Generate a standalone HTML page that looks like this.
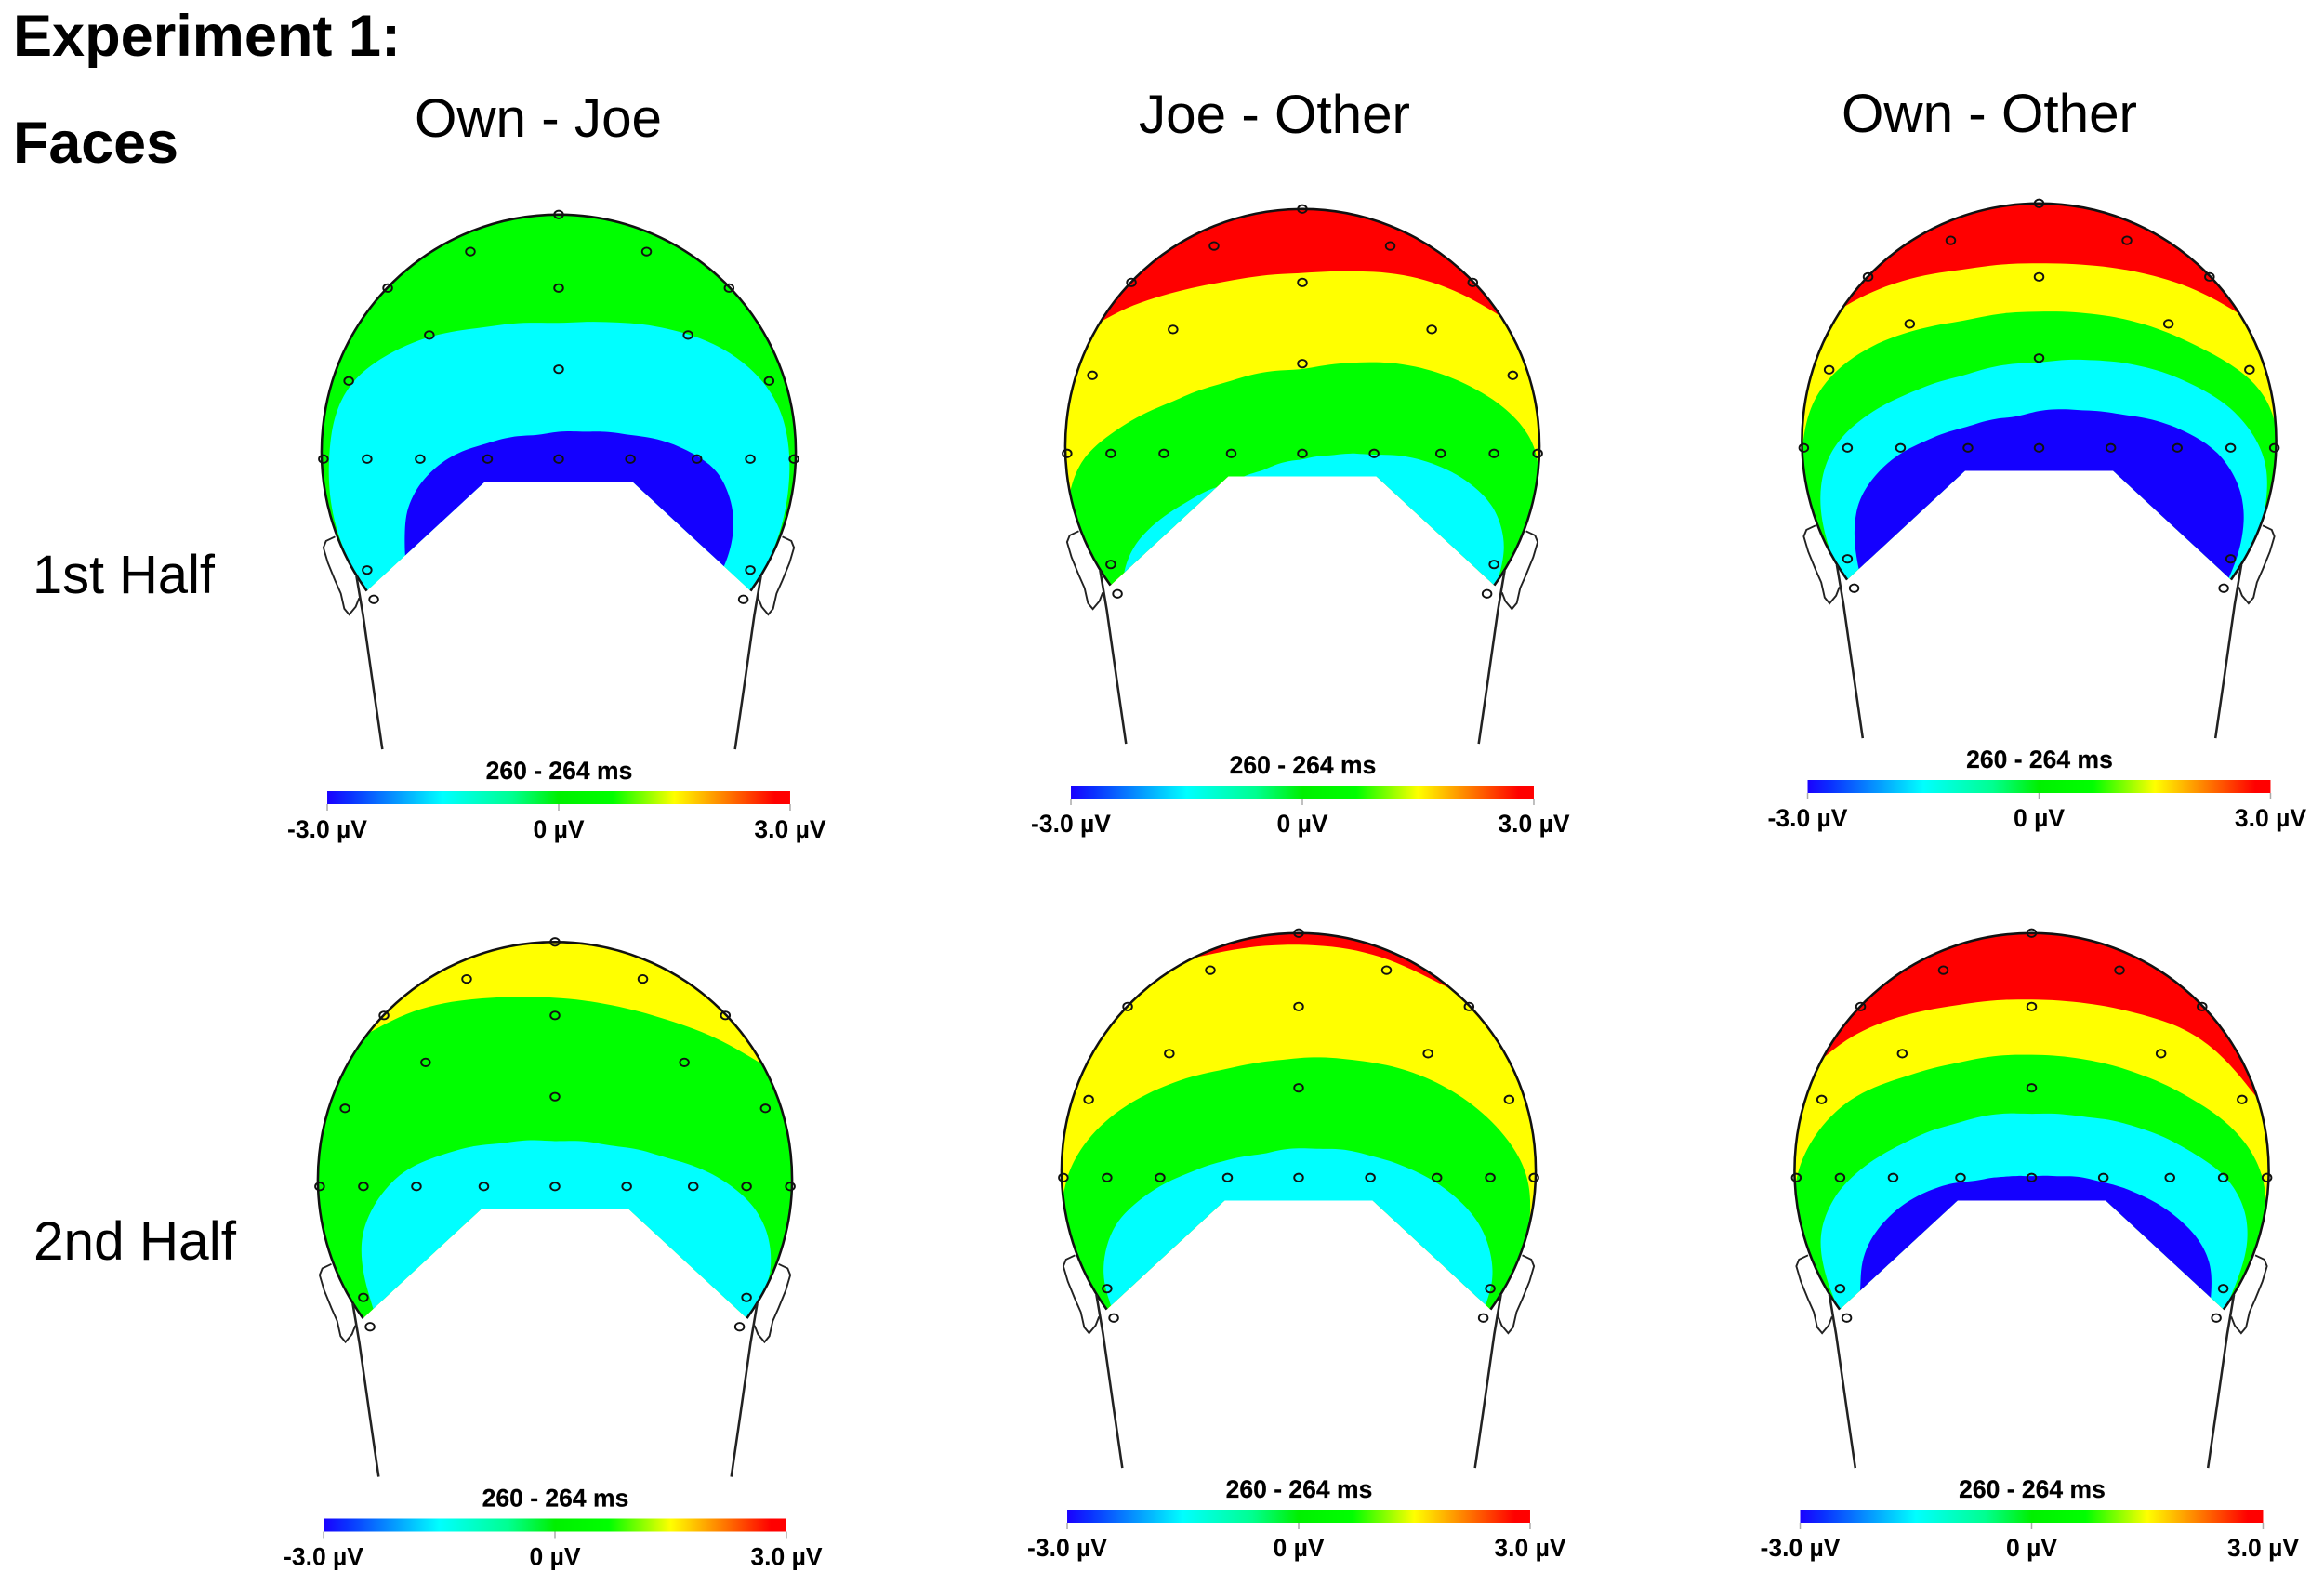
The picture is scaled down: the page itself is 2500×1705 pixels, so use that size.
<!DOCTYPE html>
<html lang="en">
<head>
<meta charset="utf-8">
<title>Experiment 1: Faces</title>
<style>
html,body{margin:0;padding:0;background:#fff}
svg{display:block}
text{font-family:"Liberation Sans",Arial,sans-serif;fill:#000}
.h{font-size:63px;font-weight:bold}
.t{font-size:58px}
</style>
</head>
<body>
<svg id="figure" xmlns="http://www.w3.org/2000/svg" width="2500" height="1705" viewBox="0 0 2500 1705">
  <rect width="2500" height="1705" fill="#fff"/>
  <defs>
    <clipPath id="scalp-clip" clipPathUnits="userSpaceOnUse">
      <path d="M-129.5 92A160 160 0 1 1 129.5 92L50 18.5L-50 18.5Z"/>
    </clipPath>
  </defs>
  <text class="h" x="14" y="60" textLength="417" lengthAdjust="spacingAndGlyphs">Experiment 1:</text>
  <text class="h" x="14" y="175" textLength="178" lengthAdjust="spacingAndGlyphs">Faces</text>
  <text class="t" x="446" y="147" textLength="266" lengthAdjust="spacingAndGlyphs">Own - Joe</text>
  <text class="t" x="1225" y="143" textLength="292" lengthAdjust="spacingAndGlyphs">Joe - Other</text>
  <text class="t" x="1981" y="142" textLength="318" lengthAdjust="spacingAndGlyphs">Own - Other</text>
  <text class="t" x="35" y="638" textLength="196" lengthAdjust="spacingAndGlyphs">1st Half</text>
  <text class="t" x="36" y="1355" textLength="218" lengthAdjust="spacingAndGlyphs">2nd Half</text>
</svg>
<script>
// Contour readings: [ray angle in degrees from straight up, distance from the map focus]
const ownJoe1GreenCyan = [[-120,120],[-100,137],[-80,156],[-67.6,167],[-59.9,174.5],[-52.5,177.6],[-45.1,174],[-32.6,165],[-19.7,154],[0,148],[13.2,153],[26.4,162],[39.8,172],[49.6,176],[58,175.6],[66.7,169],[80,156],[100,137],[120,120]];
const ownJoe1CyanBlue = [[-120,110],[-100,104],[-87.5,103.8],[-77.7,105],[-66.9,102],[-53.6,95],[-36.3,83],[-11.2,74],[13.4,77],[33.2,87],[53.1,106],[65.4,118],[77.9,120],[87.8,117.7],[96.6,113.4],[120,100]];

const joeOther1RedYellow = [[-120,170],[-100,190],[-80,205],[-60,212],[-42.3,199],[-35.8,194],[-28.3,187],[-16.7,180],[0,178],[11,183],[22.3,191],[29.8,195],[42,200.5],[60,212],[80,205],[100,190],[120,170]];
const joeOther1YellowGreen = [[-120,125],[-100,145],[-85,160],[-76.9,160],[-70,158],[-61.3,146.5],[-44.3,127],[-26.3,116.4],[0,113],[16.6,123],[32,137],[46.4,151],[56.4,161.5],[64.7,168],[69.2,169],[80,162],[100,142],[120,125]];
const joeOther1GreenCyan = [[-120,135],[-100.8,123],[-92.5,113.7],[-84.2,99.3],[-73.8,82.3],[-53.5,61],[-30.7,52.5],[0,52.6],[20,59],[40.6,73],[59,99],[70.3,116.5],[80.6,131],[91.7,137],[103.7,134.6],[120,130]];

const ownOther1RedYellow = [[-120,170],[-100,190],[-80,205],[-60,212],[-44,203],[-36.9,199],[-27,192],[-16.2,184],[0,181],[10.3,183],[21.5,188],[32.6,194.6],[42,199.4],[60,212],[80,205],[100,190],[120,170]];
const ownOther1YellowGreen = [[-120,124],[-100,142],[-80,162],[-66,173],[-59.3,177],[-50.8,175],[-41.4,168.5],[-33,161],[-19.9,151],[0,148.5],[12.5,151],[26,156.7],[39.7,164],[48.6,171.7],[56.2,178],[63.6,177.5],[80,162],[100,142],[120,124]];
const ownOther1GreenCyan = [[-120,122],[-100.7,138],[-83.8,148.5],[-77.3,151],[-70.6,151.4],[-64,148],[-53.7,138.4],[-43,128],[-26,117],[0,114],[18,121.7],[31.6,131.4],[46.6,144],[56.6,154],[66,159.4],[73.7,160.4],[86,152],[101.4,136.4],[120,122]];
const ownOther1CyanBlue = [[-120,125],[-101,124],[-90.7,124.8],[-81,124],[-74,119.6],[-63.8,111],[-50.7,97.6],[-34.8,86],[-11.2,79],[18.8,86.6],[35.7,97],[52.8,116.5],[66.3,132.8],[77.4,139],[85.8,139],[95.4,135.5],[102.5,132],[120,125]];

const ownJoe2YellowGreen = [[-120,175],[-100,195],[-80,210],[-60,216],[-45,209],[-37.8,203],[-33.2,202],[-25.8,198],[-15,190],[-7.5,186.4],[0,184],[11.9,183],[23.9,185],[35.8,191.6],[45.2,196.7],[52,205],[60,216],[80,210],[100,195],[120,175]];
const ownJoe2GreenCyan = [[-120,125],[-101.5,124.8],[-94.3,127.7],[-84.3,131.6],[-78.2,132.6],[-69,129.6],[-57.5,123],[-43.3,108],[-23.2,93],[0,87],[24.2,92],[44.7,106.6],[61,128],[72,141.4],[80.6,146.4],[91.7,145.8],[98.6,138.6],[120,125]];

const joeOther2RedYellow = [[-120,180],[-100,190],[-80,205],[-60,215],[-40,220],[-25,220],[-17.2,216],[-9.8,215],[0,214],[10.1,214],[17,213],[26,210],[33,212],[45,213],[60,215],[80,205],[100,190],[120,180]];
const joeOther2YellowGreen = [[-120,125],[-100,145],[-85,162],[-73.7,165],[-70,167],[-66.9,166.7],[-60.2,165],[-51.8,160],[-35.8,148],[-20.7,138.6],[-5,136.5],[15.5,141],[30.3,148.8],[45.5,157],[57.3,162.7],[66.7,165.5],[72.7,163.7],[77.5,160],[90,151],[100,141],[120,125]];
const joeOther2GreenCyan = [[-120,130],[-103,129.5],[-95.6,132.6],[-87,131],[-78,126.3],[-66.8,112.8],[-51,95],[-35.7,84],[-18.6,76.4],[9.6,77],[35.2,86.8],[50.1,97.7],[64,111],[77.9,124.8],[87,129.7],[95.6,132],[102.7,129],[120,128]];

const ownOther2RedYellow = [[-120,170],[-100,190],[-80,205],[-60,205],[-48,197],[-41,196],[-35.3,193],[-27.7,187.4],[-16.3,180],[0,176.7],[11.3,178],[23,182],[34.9,189],[44.4,189],[52.9,187.4],[60,190],[80,200],[100,185],[120,170]];
const ownOther2YellowGreen = [[-120,125],[-100,145],[-80,163],[-70.3,169],[-64.2,170],[-57.6,169],[-49.6,165.5],[-43.9,160.7],[-35,151.5],[-20.6,143],[0,139.5],[14.3,141],[29.4,145.7],[44.5,154],[54.7,162],[63.7,166.7],[72,166],[80,160],[100,142],[120,125]];
const ownOther2GreenCyan = [[-120,125],[-104,133.8],[-90.7,140.7],[-85,143.5],[-80.6,144],[-70.8,139.8],[-59.6,129.3],[-47.6,117.8],[-28.4,106],[0,99.5],[19.7,103.6],[38.3,115.4],[55.7,130.8],[66.7,144],[76.5,148.7],[85.2,146.4],[96.5,138],[104,134],[120,125]];
const ownOther2CyanBlue = [[-120,133],[-99.9,116.7],[-90.8,115],[-82.2,110],[-69.4,98.3],[-54.3,83.3],[-35.2,66.4],[-17,60],[0,57.6],[17.2,60.3],[41.2,71.3],[57.4,85],[71.7,101],[82.4,114],[90.8,121],[100.6,123],[120,128]];

// Electrode montage (scalp coordinates)
const electrodeX = [0,-59.6,59.3,-115.4,115,0,-87.3,87.3,-141.7,142,0,-158.8,-129.3,-93.5,-48,0,48.4,93.3,129.3,158.8,-129.3,129.3,-124.8,124.6];
const electrodeY = [-162,-137,-137,-112.4,-112.4,-112.4,-80.7,-80.7,-49.7,-49.7,-57.6,3,3,3,3,3,3,3,3,3,77.9,77.9,97.7,97.7];

// Colour scale
const scaleTicks = [-3,0,3];
const scaleTickLabels = ['-3.0 µV','0 µV','3.0 µV'];
const scaleStopValues = [-3,-2.7,-1.5,-0.6,0,0.7,1.5,2.8,3];
const scaleStopColours = ['#1a00ff','#0a30ff','#00ffff','#00ff90','#00f000','#00ff00','#ffff00','#ff0000','#ff0000'];
const timeWindow = '260 - 264 ms';

const BLUE='#1400ff', CYAN='#00ffff', GREEN='#00ff00', YELLOW='#ffff00', RED='#ff0000';

const panels = [
  {name:'own-joe-first-half', cx:601, cy:489, base:GREEN, bands:[[CYAN,ownJoe1GreenCyan],[BLUE,ownJoe1CyanBlue]]},
  {name:'joe-other-first-half', cx:1401, cy:483, base:RED, bands:[[YELLOW,joeOther1RedYellow],[GREEN,joeOther1YellowGreen],[CYAN,joeOther1GreenCyan]]},
  {name:'own-other-first-half', cx:2193.5, cy:477, base:RED, bands:[[YELLOW,ownOther1RedYellow],[GREEN,ownOther1YellowGreen],[CYAN,ownOther1GreenCyan],[BLUE,ownOther1CyanBlue]]},
  {name:'own-joe-second-half', cx:597, cy:1271.5, base:YELLOW, bands:[[GREEN,ownJoe2YellowGreen],[CYAN,ownJoe2GreenCyan]]},
  {name:'joe-other-second-half', cx:1397, cy:1262, base:RED, bands:[[YELLOW,joeOther2RedYellow],[GREEN,joeOther2YellowGreen],[CYAN,joeOther2GreenCyan]]},
  {name:'own-other-second-half', cx:2185.5, cy:1262, base:RED, bands:[[YELLOW,ownOther2RedYellow],[GREEN,ownOther2YellowGreen],[CYAN,ownOther2GreenCyan],[BLUE,ownOther2CyanBlue]]}
];

const NS='http://www.w3.org/2000/svg';
const S=1.594;           // px per scalp unit
const FOCUS_Y=60;        // ray origin below head centre
const BAR_HALF=156.2;    // half colour-bar length in scalp units

function polarX(angle,r){return Math.sin(angle*Math.PI/180)*r;}
function polarY(angle,r){return FOCUS_Y-Math.cos(angle*Math.PI/180)*r;}
function scaleX(v){return (v/3)*BAR_HALF;}

// Radius along a contour at a given ray, between the nearest readings
function radiusAt(readings,angle){
  if(angle<=readings[0][0])return readings[0][1];
  for(let i=1;i<readings.length;i++){
    if(angle<=readings[i][0]){
      const a=readings[i-1],b=readings[i];
      return a[1]+(b[1]-a[1])*(angle-a[0])/(b[0]-a[0]);
    }
  }
  return readings[readings.length-1][1];
}
// Gaussian-weighted radius so the hand-read readings draw as a smooth curve
function smoothRadius(readings,angle){
  let sum=0,w=0;
  for(let d=-9;d<=9;d+=1){
    const k=Math.exp(-d*d/(2*3.5*3.5));
    sum+=k*radiusAt(readings,angle+d);
    w+=k;
  }
  return sum/w;
}
function contourPath(readings){
  const first=readings[0][0],last=readings[readings.length-1][0];
  const pts=[];
  for(let a=first;a<=last;a+=3){
    const r=smoothRadius(readings,a);
    pts.push([polarX(a,r),polarY(a,r)]);
  }
  let d='M'+pts[0][0].toFixed(2)+' '+pts[0][1].toFixed(2);
  for(let i=0;i<pts.length-1;i++){
    const p0=pts[Math.max(i-1,0)],p1=pts[i],p2=pts[i+1],p3=pts[Math.min(i+2,pts.length-1)];
    const c1x=p1[0]+(p2[0]-p0[0])/6,c1y=p1[1]+(p2[1]-p0[1])/6;
    const c2x=p2[0]-(p3[0]-p1[0])/6,c2y=p2[1]-(p3[1]-p1[1])/6;
    d+='C'+c1x.toFixed(2)+' '+c1y.toFixed(2)+' '+c2x.toFixed(2)+' '+c2y.toFixed(2)+' '+p2[0].toFixed(2)+' '+p2[1].toFixed(2);
  }
  return d+'Z';
}

const svg=document.getElementById('figure');
const defs=svg.querySelector('defs');

// Colour-bar gradient
const grad=document.createElementNS(NS,'linearGradient');
grad.setAttribute('id','scale-gradient');
scaleStopValues.forEach((v,i)=>{
  const st=document.createElementNS(NS,'stop');
  st.setAttribute('offset',((v+3)/6).toFixed(4));
  st.setAttribute('stop-color',scaleStopColours[i]);
  grad.appendChild(st);
});
defs.appendChild(grad);

const EAR='M-150.9 55.4L-157 58.3L-158.8 62.8L-155.8 73L-150.9 85L-147 93.8L-144.7 104L-141.4 108L-137 102.7L-134.7 96.8';
const NECK='M-136.5 82L-132 108.6L-124.8 159L-119 198.9';

panels.forEach(p=>{
  const g=document.createElementNS(NS,'g');
  
  
  g.setAttribute('transform','translate('+p.cx+' '+p.cy+') scale('+S+')');
  svg.appendChild(g);

  const map=document.createElementNS(NS,'g');
  
  
  map.setAttribute('clip-path','url(#scalp-clip)');
  g.appendChild(map);

  const base=document.createElementNS(NS,'rect');
  
  
  base.setAttribute('x',-170);
  base.setAttribute('y',-170);
  base.setAttribute('width',340);
  base.setAttribute('height',280);
  base.setAttribute('fill',p.base);
  map.appendChild(base);

  p.bands.forEach(b=>{
    const band=document.createElementNS(NS,'path');
    
    
    band.setAttribute('d',contourPath(b[1]));
    band.setAttribute('fill',b[0]);
    map.appendChild(band);
  });

  const outline=document.createElementNS(NS,'path');
  
  
  outline.setAttribute('d','M-129.5 92A160 160 0 1 1 129.5 92');
  outline.setAttribute('fill','none');
  outline.setAttribute('stroke','#111');
  outline.setAttribute('stroke-width','1.6');
  g.appendChild(outline);

  [1,-1].forEach(side=>{
    const sideGroup=document.createElementNS(NS,'g');
    
    
    sideGroup.setAttribute('transform','scale('+side+' 1)');
    sideGroup.setAttribute('fill','none');
    sideGroup.setAttribute('stroke','#222');
    g.appendChild(sideGroup);

    const ear=document.createElementNS(NS,'path');
    
    
    ear.setAttribute('d',EAR);
    ear.setAttribute('stroke-width','1.2');
    sideGroup.appendChild(ear);

    const neck=document.createElementNS(NS,'path');
    
    
    neck.setAttribute('d',NECK);
    neck.setAttribute('stroke-width','1.6');
    sideGroup.appendChild(neck);
  });

  electrodeX.forEach((x,i)=>{
    const c=document.createElementNS(NS,'ellipse');
    
    
    c.setAttribute('cx',x);
    c.setAttribute('cy',electrodeY[i]);
    c.setAttribute('rx',3);
    c.setAttribute('ry',2.6);
    c.setAttribute('fill','none');
    c.setAttribute('stroke','#111');
    c.setAttribute('stroke-width','1.2');
    g.appendChild(c);
  });

  const bar=document.createElementNS(NS,'rect');
  
  
  bar.setAttribute('x',p.cx+scaleX(-3)*S);
  bar.setAttribute('y',p.cy+362);
  bar.setAttribute('width',(scaleX(3)-scaleX(-3))*S);
  bar.setAttribute('height',14);
  bar.setAttribute('fill','url(#scale-gradient)');
  svg.appendChild(bar);

  const title=document.createElementNS(NS,'text');
  
  
  title.setAttribute('x',p.cx+0.5);
  title.setAttribute('y',p.cy+349);
  title.setAttribute('text-anchor','middle');
  title.setAttribute('font-size','26.5');
  title.setAttribute('font-weight','bold');
  title.setAttribute('stroke','#000');
  title.setAttribute('stroke-width','0.2');
  title.textContent=timeWindow;
  svg.appendChild(title);

  scaleTicks.forEach((v,i)=>{
    const tick=document.createElementNS(NS,'line');
    
    
    tick.setAttribute('x1',p.cx+scaleX(v)*S);
    tick.setAttribute('x2',p.cx+scaleX(v)*S);
    tick.setAttribute('y1',p.cy+376);
    tick.setAttribute('y2',p.cy+383);
    tick.setAttribute('stroke','#aaa');
    tick.setAttribute('stroke-width','1.5');
    svg.appendChild(tick);

    const label=document.createElementNS(NS,'text');
    
    
    label.setAttribute('x',p.cx+scaleX(v)*S);
    label.setAttribute('y',p.cy+412);
    label.setAttribute('text-anchor','middle');
    label.setAttribute('font-size','26.5');
    label.setAttribute('font-weight','bold');
    label.textContent=scaleTickLabels[i];
    svg.appendChild(label);
  });
});
</script>
</body>
</html>
